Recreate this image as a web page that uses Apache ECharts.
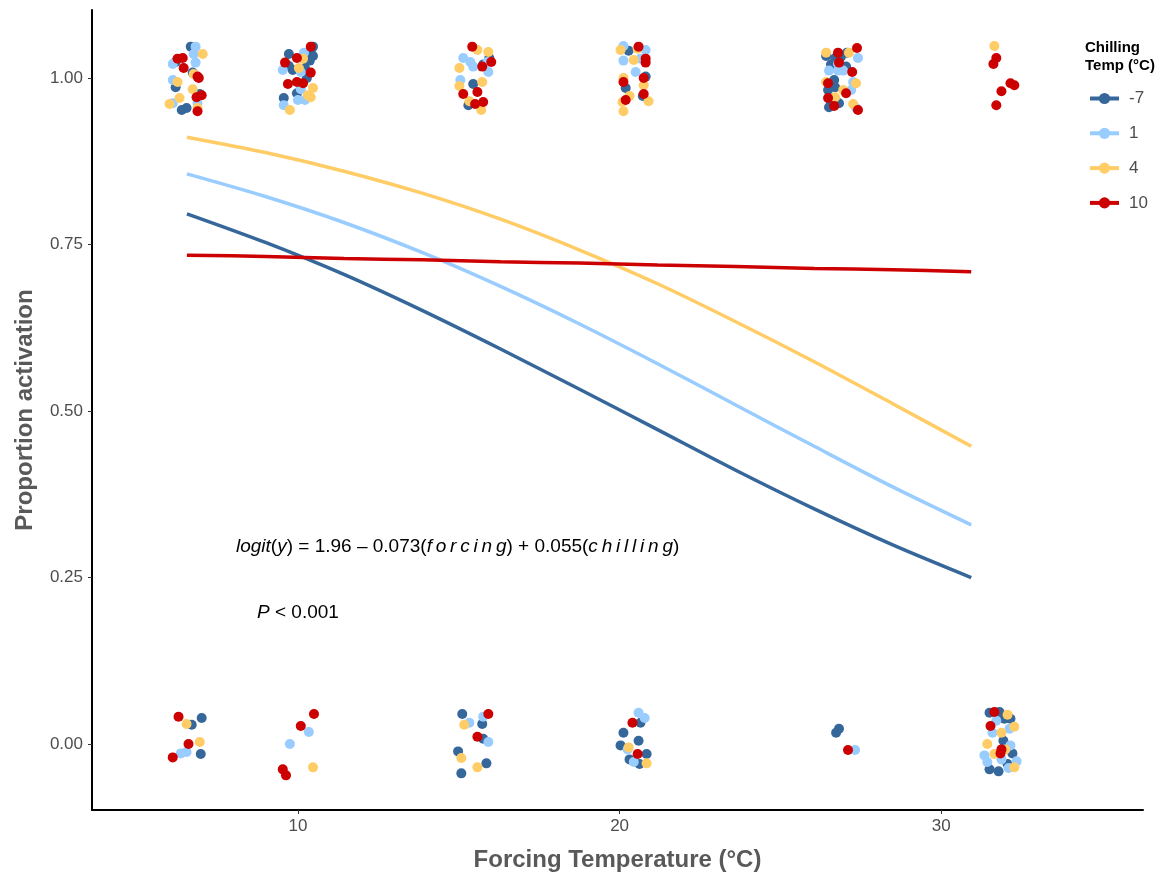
<!DOCTYPE html>
<html><head><meta charset="utf-8">
<script src="https://cdn.jsdelivr.net/npm/echarts@6/dist/echarts.min.js"></script>
<style>html,body{margin:0;padding:0;background:#fff}#c{width:1171px;height:876px}</style>
</head><body><div id="c"></div>
<script>
const groups = ['-7', '1', '4', '10'];
const colors = ['#36679a', '#99ccff', '#ffcc66', '#cc0000'];
const xTicks = [10, 20, 30];
const yTicks = [0, 0.25, 0.5, 0.75, 1];

// fitted curves
const curveX   = [6.55, 8.99, 11.43, 13.86, 16.30, 18.74, 21.18, 23.61, 26.05, 28.49, 30.93];
const curveM7  = [0.796, 0.753, 0.705, 0.651, 0.593, 0.533, 0.472, 0.411, 0.353, 0.299, 0.250];
const curve1   = [0.856, 0.822, 0.783, 0.738, 0.687, 0.631, 0.571, 0.509, 0.447, 0.386, 0.329];
const curve4   = [0.911, 0.888, 0.860, 0.827, 0.788, 0.742, 0.691, 0.634, 0.574, 0.511, 0.447];
const curve10  = [0.734, 0.732, 0.729, 0.727, 0.724, 0.722, 0.719, 0.717, 0.714, 0.712, 0.709];

// jittered observations [forcing, activation]
const ptsM7 = [
  [6.67,1.047],[6.20,1.024],[6.73,1.008],[6.20,0.986],[6.95,0.976],[6.54,0.955],[6.39,0.952],
  [10.47,1.047],[10.40,1.039],[9.72,1.036],[10.47,1.033],[10.37,1.026],[9.72,1.018],[9.84,1.012],[10.22,1.015],[10.28,1.000],[9.97,0.977],[9.56,0.970],
  [15.95,1.030],[15.76,1.020],[15.45,0.991],[15.30,0.959],
  [20.28,1.041],[20.81,1.002],[20.19,0.985],[20.72,0.973],
  [26.42,1.033],[27.07,1.038],[26.70,1.030],[26.88,1.032],[26.57,1.020],[27.04,1.017],[26.67,0.997],[26.70,0.986],[26.48,0.982],[26.57,0.964],[26.82,0.962],[26.51,0.956],
  [7.01,0.039],[6.70,0.029],[6.98,-0.015],
  [15.11,0.045],[15.73,0.030],[15.76,0.008],[14.98,-0.011],[15.86,-0.029],[15.08,-0.044],
  [20.65,0.032],[20.12,0.017],[20.59,0.005],[20.03,-0.002],[20.84,-0.015],[20.31,-0.023],[20.62,-0.030],
  [26.73,0.017],[26.82,0.023],
  [31.50,0.047],[31.81,0.048],[31.96,0.038],[32.15,0.038],[31.93,0.005],[32.21,-0.014],[32.06,-0.030],[31.50,-0.038],[31.78,-0.041]
];
const pts1 = [
  [6.82,1.047],[6.76,1.036],[6.11,1.021],[6.82,1.023],[6.11,0.997],[6.11,0.962],[6.88,0.962],
  [10.19,1.038],[9.53,1.012],[10.09,1.009],[10.09,0.983],[10.00,0.967],[10.22,0.967],[9.56,0.959],
  [15.14,1.030],[15.89,1.024],[15.36,1.024],[15.45,1.017],[15.92,1.009],[15.05,0.997],
  [20.12,1.048],[20.81,1.042],[20.12,1.026],[20.65,1.029],[20.50,1.009],
  [27.41,1.030],[26.79,1.021],[26.51,1.011],[26.79,1.011],[26.95,1.011],[27.26,0.994],[27.20,0.982],[27.35,0.955],
  [6.54,-0.012],[6.36,-0.014],
  [10.34,0.018],[9.75,0.000],
  [15.76,0.041],[15.33,0.032],[15.92,0.003],
  [20.59,0.047],[20.78,0.039],[20.25,-0.008],[20.44,-0.027],
  [27.32,-0.009],
  [31.71,0.035],[31.59,0.017],[32.12,0.023],[32.15,-0.002],[31.34,-0.017],[31.87,-0.023],[32.34,-0.026],[31.43,-0.027],[32.09,-0.036]
];
const pts4 = [
  [7.04,1.036],[6.76,1.006],[6.26,0.994],[6.73,0.983],[6.32,0.970],[6.01,0.961],[6.88,0.955],
  [10.16,1.029],[10.03,1.015],[10.47,0.985],[10.31,0.974],[10.40,0.971],[9.75,0.952],
  [15.58,1.042],[15.92,1.039],[15.02,1.015],[15.73,0.994],[15.02,0.988],[15.33,0.965],[15.70,0.952],
  [20.03,1.042],[20.56,1.044],[20.44,1.027],[20.12,1.000],[20.75,0.989],[20.31,0.973],[20.09,0.964],[20.90,0.965],[20.12,0.950],
  [26.42,1.038],[27.13,1.038],[26.42,0.994],[27.35,0.992],[26.95,0.982],[26.70,0.971],[27.26,0.961],
  [31.65,1.048],
  [6.54,0.030],[6.95,0.003],
  [10.47,-0.035],
  [15.17,0.029],[15.08,-0.021],[15.58,-0.035],
  [20.28,-0.005],[20.84,-0.029],
  [32.06,0.044],[32.27,0.026],[31.87,0.017],[31.43,0.000],[31.99,-0.008],[31.65,-0.015],[32.27,-0.035]
];
const pts10 = [
  [6.42,1.030],[6.26,1.029],[6.45,1.015],[6.88,1.002],[6.92,1.000],[6.85,0.971],[7.01,0.974],[6.88,0.950],
  [10.40,1.047],[9.97,1.030],[9.60,1.023],[10.40,1.008],[9.69,0.991],[9.97,0.994],[10.16,0.992],
  [15.42,1.047],[16.01,1.024],[15.73,1.017],[15.14,0.976],[15.58,0.979],[15.51,0.961],[15.76,0.964],
  [20.59,1.047],[20.81,1.029],[20.81,1.023],[20.75,1.000],[20.12,0.994],[20.75,0.976],[20.19,0.967],
  [27.38,1.045],[26.79,1.038],[26.82,1.023],[27.23,1.009],[26.48,0.992],[27.04,0.977],[26.48,0.970],[26.67,0.958],[27.41,0.952],
  [31.71,1.030],[31.62,1.021],[32.15,0.992],[32.27,0.989],[31.87,0.980],[31.71,0.959],
  [6.29,0.041],[6.60,0.000],[6.11,-0.020],
  [10.50,0.045],[10.09,0.027],[9.53,-0.038],[9.63,-0.047],
  [15.92,0.045],[15.58,0.011],
  [20.40,0.032],[20.56,-0.015],
  [27.10,-0.009],
  [31.65,0.048],[31.53,0.027],[31.87,-0.008],[31.84,-0.014]
];

const curves = [curveM7, curve1, curve4, curve10];
const points = [ptsM7, pts1, pts4, pts10];
const FONT = '"Liberation Sans", Arial, sans-serif';

const chart = echarts.init(document.getElementById('c'), null, {renderer: 'canvas'});

const series = [];
groups.forEach((g, i) => {
  series.push({
    name: g, type: 'line', data: curveX.map((x, k) => [x, curves[i][k]]),
    smooth: 0.3, symbol: 'circle', symbolSize: 9, showSymbol: false,
    lineStyle: {color: colors[i], width: 3.5}, itemStyle: {color: colors[i]}, z: 3, silent: true
  });
});
groups.forEach((g, i) => {
  series.push({
    name: g, type: 'scatter', data: points[i], symbol: 'circle', symbolSize: 10,
    itemStyle: {color: colors[i], opacity: 1}, z: 2, silent: true
  });
});

const option = {
  animation: false,
  backgroundColor: '#ffffff',
  textStyle: {fontFamily: FONT},
  grid: {left: 92, right: 28, top: 10, bottom: 66, containLabel: false, outerBoundsMode: 'none'},
  xAxis: {
    type: 'value', min: 3.6, max: 36.27,
    name: 'Forcing Temperature (°C)', nameLocation: 'middle', nameGap: 38,
    nameTextStyle: {fontSize: 24, fontWeight: 'bold', color: '#595959', fontFamily: FONT},
    axisLine: {show: true, onZero: false, lineStyle: {color: '#000', width: 2}},
    axisTick: {show: true, length: 4, customValues: xTicks, lineStyle: {color: '#333', width: 1}},
    axisLabel: {customValues: xTicks, color: '#4d4d4d', fontSize: 17, margin: 8, fontFamily: FONT},
    splitLine: {show: false}
  },
  yAxis: {
    type: 'value', min: -0.099, max: 1.102,
    name: 'Proportion activation', nameLocation: 'middle', nameGap: 55, nameRotate: 90,
    nameTextStyle: {fontSize: 24, fontWeight: 'bold', color: '#595959', fontFamily: FONT},
    axisLine: {show: true, onZero: false, lineStyle: {color: '#000', width: 2}},
    axisTick: {show: true, length: 4, customValues: yTicks, lineStyle: {color: '#333', width: 1}},
    axisLabel: {customValues: yTicks, color: '#4d4d4d', fontSize: 17, margin: 9, fontFamily: FONT,
      formatter: v => v.toFixed(2)},
    splitLine: {show: false}
  },
  legend: {
    data: groups, orient: 'vertical', left: 1088, top: 90, padding: 0,
    itemWidth: 29, itemHeight: 14, itemGap: 17.8,
    lineStyle: {width: 4},
    textStyle: {fontSize: 17, color: '#4d4d4d', fontFamily: FONT, padding: [0, 0, 0, 5]}
  },
  graphic: [
    {type: 'text', left: 1085, top: 39, silent: true,
     style: {text: 'Chilling\nTemp (°C)', font: 'bold 15px ' + FONT, fill: '#000', lineHeight: 18}},
    {type: 'text', left: 236, top: 537, silent: true,
     style: {
       text: '{i|logit}{n|(}{i|y}{n|) = 1.96 – 0.073(}{i|f\u2009o\u2009r\u2009c\u2009i\u2009n\u2009g}{n|) + 0.055(}{i|c\u2009h\u2009i\u2009l\u2009l\u2009i\u2009n\u2009g}{n|)}',
       rich: {
         i: {font: 'italic 19px ' + FONT, fill: '#000'},
         n: {font: '19px ' + FONT, fill: '#000'}
       }
     }},
    {type: 'text', left: 257, top: 603, silent: true,
     style: {
       text: '{i|P}{n| < 0.001}',
       rich: {
         i: {font: 'italic 19px ' + FONT, fill: '#000'},
         n: {font: '19px ' + FONT, fill: '#000'}
       }
     }}
  ],
  series: series
};
chart.setOption(option);
</script>
</body></html>
